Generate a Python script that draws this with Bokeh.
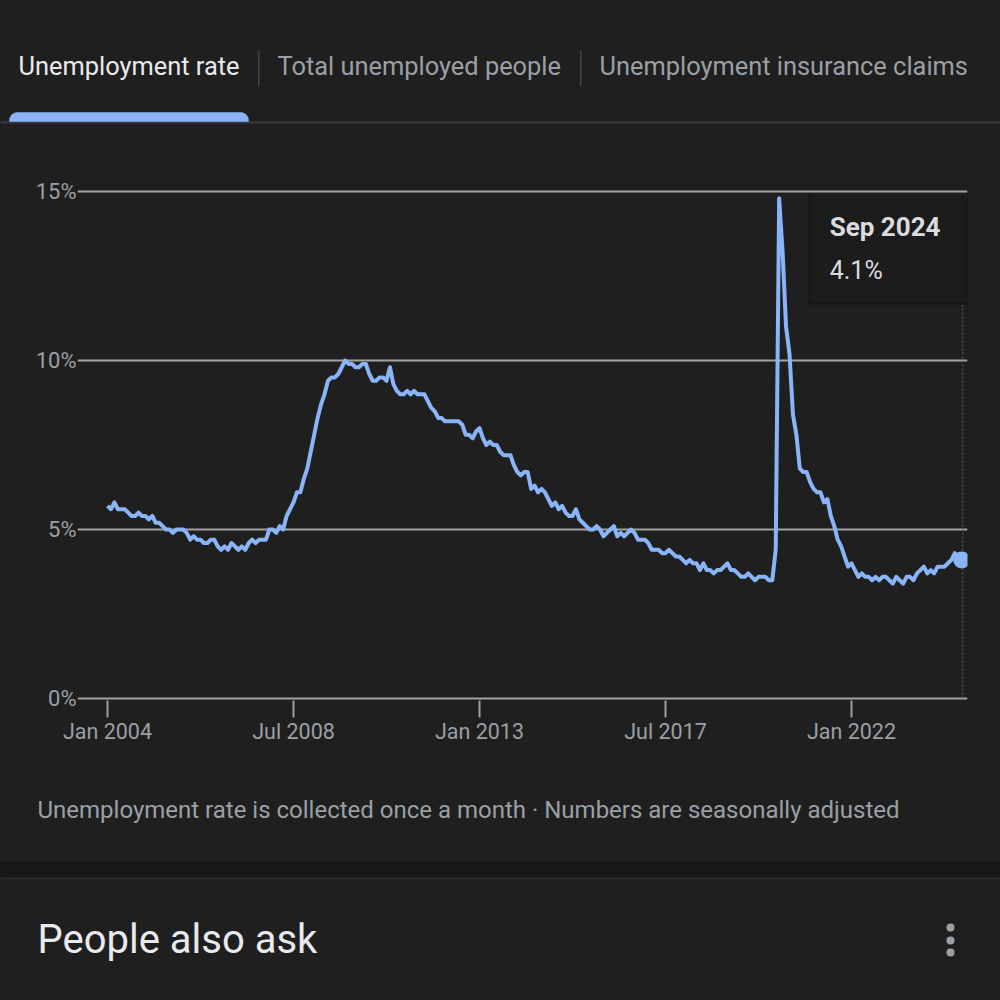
import numpy as np
from bokeh.plotting import figure
from bokeh.layouts import column
from bokeh.models import Range1d, FixedTicker, Label, PrintfTickFormatter
from bokeh.core.properties import value
from bokeh.embed import file_html
from bokeh.resources import INLINE

# ---------------- data ----------------
tab_labels = ["Unemployment rate", "Total unemployed people", "Unemployment insurance claims"]
rate_2004 = [5.7, 5.6, 5.8, 5.6, 5.6, 5.6, 5.5, 5.4, 5.4, 5.5, 5.4, 5.4]
rate_2005 = [5.3, 5.4, 5.2, 5.2, 5.1, 5.0, 5.0, 4.9, 5.0, 5.0, 5.0, 4.9]
rate_2006 = [4.7, 4.8, 4.7, 4.7, 4.6, 4.6, 4.7, 4.7, 4.5, 4.4, 4.5, 4.4]
rate_2007 = [4.6, 4.5, 4.4, 4.5, 4.4, 4.6, 4.7, 4.6, 4.7, 4.7, 4.7, 5.0]
rate_2008 = [5.0, 4.9, 5.1, 5.0, 5.4, 5.6, 5.8, 6.1, 6.1, 6.5, 6.8, 7.3]
rate_2009 = [7.8, 8.3, 8.7, 9.0, 9.4, 9.5, 9.5, 9.6, 9.8, 10.0, 9.9, 9.9]
rate_2010 = [9.8, 9.8, 9.9, 9.9, 9.6, 9.4, 9.4, 9.5, 9.5, 9.4, 9.8, 9.3]
rate_2011 = [9.1, 9.0, 9.0, 9.1, 9.0, 9.1, 9.0, 9.0, 9.0, 8.8, 8.6, 8.5]
rate_2012 = [8.3, 8.3, 8.2, 8.2, 8.2, 8.2, 8.2, 8.1, 7.8, 7.8, 7.7, 7.9]
rate_2013 = [8.0, 7.7, 7.5, 7.6, 7.5, 7.5, 7.3, 7.2, 7.2, 7.2, 6.9, 6.7]
rate_2014 = [6.6, 6.7, 6.7, 6.2, 6.3, 6.1, 6.2, 6.1, 5.9, 5.7, 5.8, 5.6]
rate_2015 = [5.7, 5.5, 5.4, 5.4, 5.6, 5.3, 5.2, 5.1, 5.0, 5.0, 5.1, 5.0]
rate_2016 = [4.8, 4.9, 5.0, 5.1, 4.8, 4.9, 4.8, 4.9, 5.0, 4.9, 4.7, 4.7]
rate_2017 = [4.7, 4.6, 4.4, 4.4, 4.4, 4.3, 4.3, 4.4, 4.3, 4.2, 4.2, 4.1]
rate_2018 = [4.0, 4.1, 4.0, 4.0, 3.8, 4.0, 3.8, 3.8, 3.7, 3.8, 3.8, 3.9]
rate_2019 = [4.0, 3.8, 3.8, 3.7, 3.6, 3.6, 3.7, 3.6, 3.5, 3.6, 3.6, 3.6]
rate_2020 = [3.5, 3.5, 4.4, 14.8, 13.2, 11.0, 10.2, 8.4, 7.8, 6.8, 6.7, 6.7]
rate_2021 = [6.4, 6.2, 6.1, 6.1, 5.8, 5.9, 5.4, 5.1, 4.7, 4.5, 4.2, 3.9]
rate_2022 = [4.0, 3.8, 3.6, 3.7, 3.6, 3.6, 3.5, 3.6, 3.5, 3.6, 3.6, 3.5]
rate_2023 = [3.4, 3.6, 3.5, 3.4, 3.6, 3.6, 3.5, 3.7, 3.8, 3.9, 3.7, 3.8]
rate_2024 = [3.7, 3.9, 3.9, 3.9, 4.0, 4.1, 4.3, 4.2, 4.1]
month_names = ["Jan", "Feb", "Mar", "Apr", "May", "Jun",
               "Jul", "Aug", "Sep", "Oct", "Nov", "Dec"]
x_tick_months = [0, 54, 108, 162, 216]
x_tick_labels = ["Jan 2004", "Jul 2008", "Jan 2013", "Jul 2017", "Jan 2022"]
y_ticks = [0, 5, 10, 15]
footnote = "Unemployment rate is collected once a month \u00b7 Numbers are seasonally adjusted"
section_title = "People also ask"

rates = (rate_2004 + rate_2005 + rate_2006 + rate_2007 + rate_2008 + rate_2009 +
         rate_2010 + rate_2011 + rate_2012 + rate_2013 + rate_2014 + rate_2015 +
         rate_2016 + rate_2017 + rate_2018 + rate_2019 + rate_2020 + rate_2021 +
         rate_2022 + rate_2023 + rate_2024)
months = list(range(len(rates)))
last_i = months[-1]
last_v = rates[-1]
last_label = f"{month_names[last_i % 12]} {2004 + last_i // 12}"

# ---------------- style ----------------
BG = "#1f1f1f"
TXT = "#e8eaed"
SUB = "#9aa0a6"
GRID = "#a3a3a3"
BLUE = "#8ab4f8"
FONT = "Roboto"
MID = 0.36   # baseline -> middle offset (em)


def chrome_fig(h):
    f = figure(width=1000, height=h, x_range=Range1d(0, 1000), y_range=Range1d(h, 0),
               output_backend="svg", toolbar_location=None, tools="",
               min_border=0, min_border_left=0, min_border_right=0,
               min_border_top=0, min_border_bottom=0,
               x_axis_location=None, y_axis_location=None)
    f.frame_align = False
    f.grid.visible = False
    f.outline_line_color = None
    f.background_fill_color = BG
    f.border_fill_color = BG
    return f


def text(f, x, y_base, s, size, color, style="normal"):
    f.text(x=[x], y=[y_base - MID * size], text=[s], text_color=color,
           text_font=value(FONT), text_font_size=f"{size}px", text_font_style=style,
           text_baseline="middle", text_align="left")


# ---------------- tabs ----------------
TOP_H = 125
top = chrome_fig(TOP_H)
top.quad(left=[0], right=[1000], top=[121], bottom=[123], fill_color="#3a3a3a", line_color=None)
r = 8
L, R, T, B = 9, 248, 112, 121
a1 = np.linspace(np.pi, 1.5 * np.pi, 10)
a2 = np.linspace(1.5 * np.pi, 2 * np.pi, 10)
xs = [L] + list(L + r + r * np.cos(a1)) + list(R - r + r * np.cos(a2)) + [R]
ys = [B] + list(T + r + r * np.sin(a1)) + list(T + r + r * np.sin(a2)) + [B]
top.patch(xs, ys, fill_color=BLUE, line_color=BLUE, line_width=0.5)
top.quad(left=[257.5, 579.5], right=[259, 581], top=[50, 50], bottom=[86, 86],
         fill_color="#444444", line_color=None)
text(top, 18, 75, tab_labels[0], 25.4, TXT)
text(top, 277, 75, tab_labels[1], 25.4, SUB)
text(top, 599, 75, tab_labels[2], 25.4, SUB)

# ---------------- chart ----------------
CH_Y0, CH_H = 125, 645
PPM = 744 / 216.0                     # px per month
PPP = (698 - 191) / 15.0              # px per percent
FRAME_L, FRAME_R, FRAME_T, FRAME_B = 77, 967, 189, 700
x0 = -(107 - FRAME_L) / PPM
x1 = x0 + (FRAME_R - FRAME_L) / PPM
y0 = -(FRAME_B - 698) / PPP
y1 = 15 + (191 - FRAME_T) / PPP

p = figure(width=1000, height=CH_H, x_range=Range1d(x0, x1), y_range=Range1d(y0, y1),
           output_backend="svg", toolbar_location=None, tools="",
           min_border_left=FRAME_L, min_border_right=1000 - FRAME_R,
           min_border_top=FRAME_T - CH_Y0, min_border_bottom=CH_Y0 + CH_H - FRAME_B)
p.frame_align = False
p.background_fill_color = BG
p.border_fill_color = BG
p.outline_line_color = None
p.xgrid.visible = False
p.ygrid.grid_line_color = GRID
p.ygrid.grid_line_width = 2
p.ygrid.ticker = FixedTicker(ticks=y_ticks)

p.yaxis.ticker = FixedTicker(ticks=y_ticks)
p.yaxis.formatter = PrintfTickFormatter(format="%d%%")
p.yaxis.axis_line_color = None
p.yaxis.major_tick_line_color = None
p.yaxis.major_tick_out = 0
p.yaxis.major_tick_in = 0
p.yaxis.minor_tick_line_color = None
p.yaxis.major_label_standoff = 1
p.yaxis.major_label_text_color = SUB
p.yaxis.major_label_text_font = FONT
p.yaxis.major_label_text_font_size = "22px"

p.xaxis.ticker = FixedTicker(ticks=x_tick_months)
p.xaxis.major_label_overrides = dict(zip(x_tick_months, x_tick_labels))
p.xaxis.axis_line_color = None
p.xaxis.major_tick_in = 0
p.xaxis.major_tick_out = 17
p.xaxis.major_tick_line_width = 2
p.xaxis.major_tick_line_color = SUB
p.xaxis.minor_tick_line_color = None
p.xaxis.major_label_standoff = 1
p.xaxis.major_label_text_color = SUB
p.xaxis.major_label_text_font = FONT
p.xaxis.major_label_text_font_size = "21.5px"

p.line(months, rates, line_color=BLUE, line_width=4, line_join="round")

# hover indicator (tooltip) anchored at the last point
tip_l = last_i - 151 / PPM
tip_r = last_i + 5 / PPM
tip_t = 15 - 2.5 / PPP
tip_b = 15 - 111 / PPP
p.segment(x0=[last_i + 1 / PPM], y0=[0], x1=[last_i + 1 / PPM], y1=[tip_b],
          line_color="#5f6368", line_width=1, line_dash="2 2")
p.quad(left=[tip_l - 2 / PPM], right=[tip_r + 2 / PPM], top=[tip_t],
       bottom=[tip_b - 2 / PPP], fill_color="#151515", line_color=None)
p.quad(left=[tip_l], right=[tip_r], top=[tip_t], bottom=[tip_b],
       fill_color="#1c1c1c", line_color=None)
p.scatter([last_i], [last_v], size=17, fill_color=BLUE, line_color=None)
p.add_layout(Label(x=tip_l + 19 / PPM, y=15 - 35.5 / PPP, text=last_label,
                   text_font=FONT, text_font_size="26px", text_font_style="bold",
                   text_color="#dadce0", text_baseline="middle"))
p.add_layout(Label(x=tip_l + 19 / PPM, y=15 - 78.5 / PPP, text=f"{last_v}%",
                   text_font=FONT, text_font_size="25px",
                   text_color="#dadce0", text_baseline="middle"))

# ---------------- footer ----------------
BOT_Y0, BOT_H = 770, 230
bot = chrome_fig(BOT_H)
text(bot, 37, 818 - BOT_Y0, footnote, 24, SUB)
bot.quad(left=[0], right=[1000], top=[861 - BOT_Y0], bottom=[877 - BOT_Y0],
         fill_color="#171717", line_color=None)
bot.quad(left=[0], right=[1000], top=[877 - BOT_Y0], bottom=[879 - BOT_Y0],
         fill_color="#2b2b2b", line_color=None)
text(bot, 37, 953 - BOT_Y0, section_title, 40, TXT)
bot.scatter([950, 950, 950], [927 - BOT_Y0, 940 - BOT_Y0, 952 - BOT_Y0], size=8,
            fill_color="#9aa0a6", line_color=None)

layout = column(top, p, bot, spacing=0)
html = file_html(layout, INLINE)
html = html.replace("<head>", "<head><style>html,body{margin:0;background:%s;}</style>" % BG, 1)
open("out.html", "w").write(html)
